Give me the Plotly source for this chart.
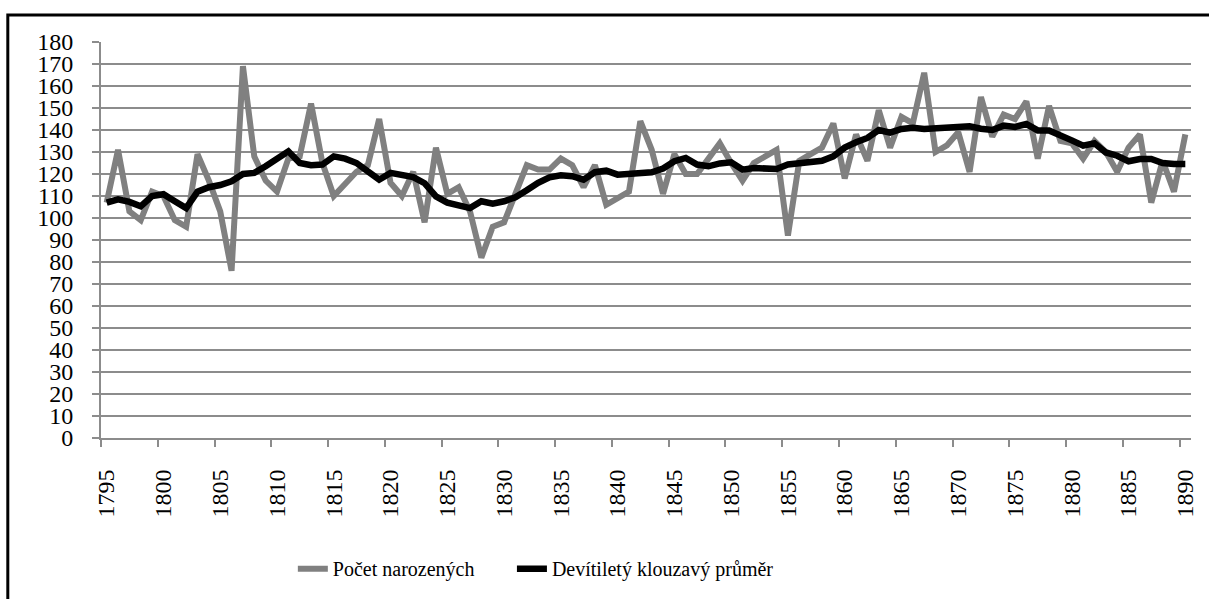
import plotly.graph_objects as go

years = list(range(1795, 1891))

births = [107, 131, 103, 99, 112, 110, 99, 96, 129, 117,
          103, 76, 169, 128, 117, 112, 127, 128, 152, 125,
          110, 116, 121, 124, 145, 116, 110, 121, 98, 132,
          111, 114, 103, 82, 96, 98, 111, 124, 122, 122,
          127, 124, 114, 124, 106, 109, 112, 144, 131, 111,
          129, 120, 120, 127, 134, 125, 117, 125, 128, 131,
          92, 126, 129, 132, 143, 118, 138, 126, 149, 132,
          146, 143, 166, 130, 133, 139, 121, 155, 137, 147,
          145, 153, 127, 151, 135, 134, 127, 135, 130, 121,
          132, 138, 107, 126, 112, 138]

moving_avg = [107, 108.5, 107.3, 105.3, 110, 110.8, 107.6, 104.5, 112, 114,
              115, 116.7, 120, 120.5, 123.5, 126.5, 130.3, 125, 124, 124.3,
              128, 127, 125, 121.2, 117.4, 120.5, 119.7, 118.6, 115.8, 109.8,
              107, 105.6, 104.5, 107.6, 106.5, 107.6, 109.4, 112.6, 116, 118.5,
              119.4, 119, 117.4, 120.8, 121.5, 119.7, 120.3, 120.8, 120.8, 122.5,
              125.8, 127.3, 124.3, 123.5, 124.8, 125.3, 122, 122.7, 122.7, 122.3,
              124.3, 124.7, 125.8, 126, 128, 132, 134.4, 136.4, 140, 138.8,
              140.5, 141, 140.5, 140.8, 141.3, 141.5, 141.7, 140.6, 140, 142,
              141.4, 142.7, 139.8, 139.8, 137.9, 135.3, 132.9, 134, 129.8, 128.3,
              125.8, 126.8, 126.8, 125, 124.5, 124.5]

label_years = [1795, 1800, 1805, 1810, 1815, 1820, 1825, 1830, 1835, 1840,
               1845, 1850, 1855, 1860, 1865, 1870, 1875, 1880, 1885, 1890]
label_text = [str(y) for y in label_years]

series_names = ["Počet narozených", "Devítiletý klouzavý průměr"]

GRID = "#8c8c8c"
FONT = "'Liberation Serif', 'Times New Roman', Times, serif"

fig = go.Figure()
fig.add_trace(go.Scatter(x=years, y=births, mode="lines", name=series_names[0],
                         line=dict(color="#808080", width=6), legend="legend"))
fig.add_trace(go.Scatter(x=years, y=moving_avg, mode="lines", name=series_names[1],
                         line=dict(color="#000000", width=6.5), legend="legend2"))

legend_common = dict(orientation="h", y=-0.33, yanchor="middle", xanchor="left",
                     font=dict(family=FONT, size=20, color="black"),
                     bgcolor="rgba(0,0,0,0)")

fig.update_layout(
    width=1209, height=599,
    margin=dict(l=101, r=18, t=42, b=161, autoexpand=False),
    paper_bgcolor="white", plot_bgcolor="white",
    font=dict(family=FONT, color="black", size=24),
    showlegend=True,
    legend=dict(x=0.176, **legend_common),
    legend2=dict(x=0.377, **legend_common),
    shapes=[dict(type="rect", xref="paper", yref="paper",
                 x0=-0.0855, x1=1.03, y0=-0.43, y1=1.068,
                 line=dict(color="black", width=3), fillcolor="rgba(0,0,0,0)",
                 layer="below")],
)

fig.update_xaxes(
    range=[1794.5, 1890.5],
    tickmode="array", tickvals=label_years, ticktext=label_text,
    tickangle=-90, ticks="", showgrid=False, zeroline=False,
    showline=True, linecolor=GRID, linewidth=2,
    ticklabelstandoff=20,
    tickfont=dict(family=FONT, size=24, color="black"),
    minor=dict(tick0=1794.5, dtick=5, ticks="outside", ticklen=7,
               tickcolor=GRID, tickwidth=2, showgrid=False),
)
fig.update_yaxes(
    range=[0, 180], dtick=10, tick0=0,
    ticks="outside", ticklen=7, tickcolor=GRID, tickwidth=2,
    ticklabelstandoff=14,
    showgrid=True, gridcolor=GRID, gridwidth=1.5, zeroline=False,
    showline=True, linecolor=GRID, linewidth=2,
    tickfont=dict(family=FONT, size=24, color="black"),
)

fig.write_html("out.html", config={"displayModeBar": False},
               post_script="document.body.style.margin='0';")
